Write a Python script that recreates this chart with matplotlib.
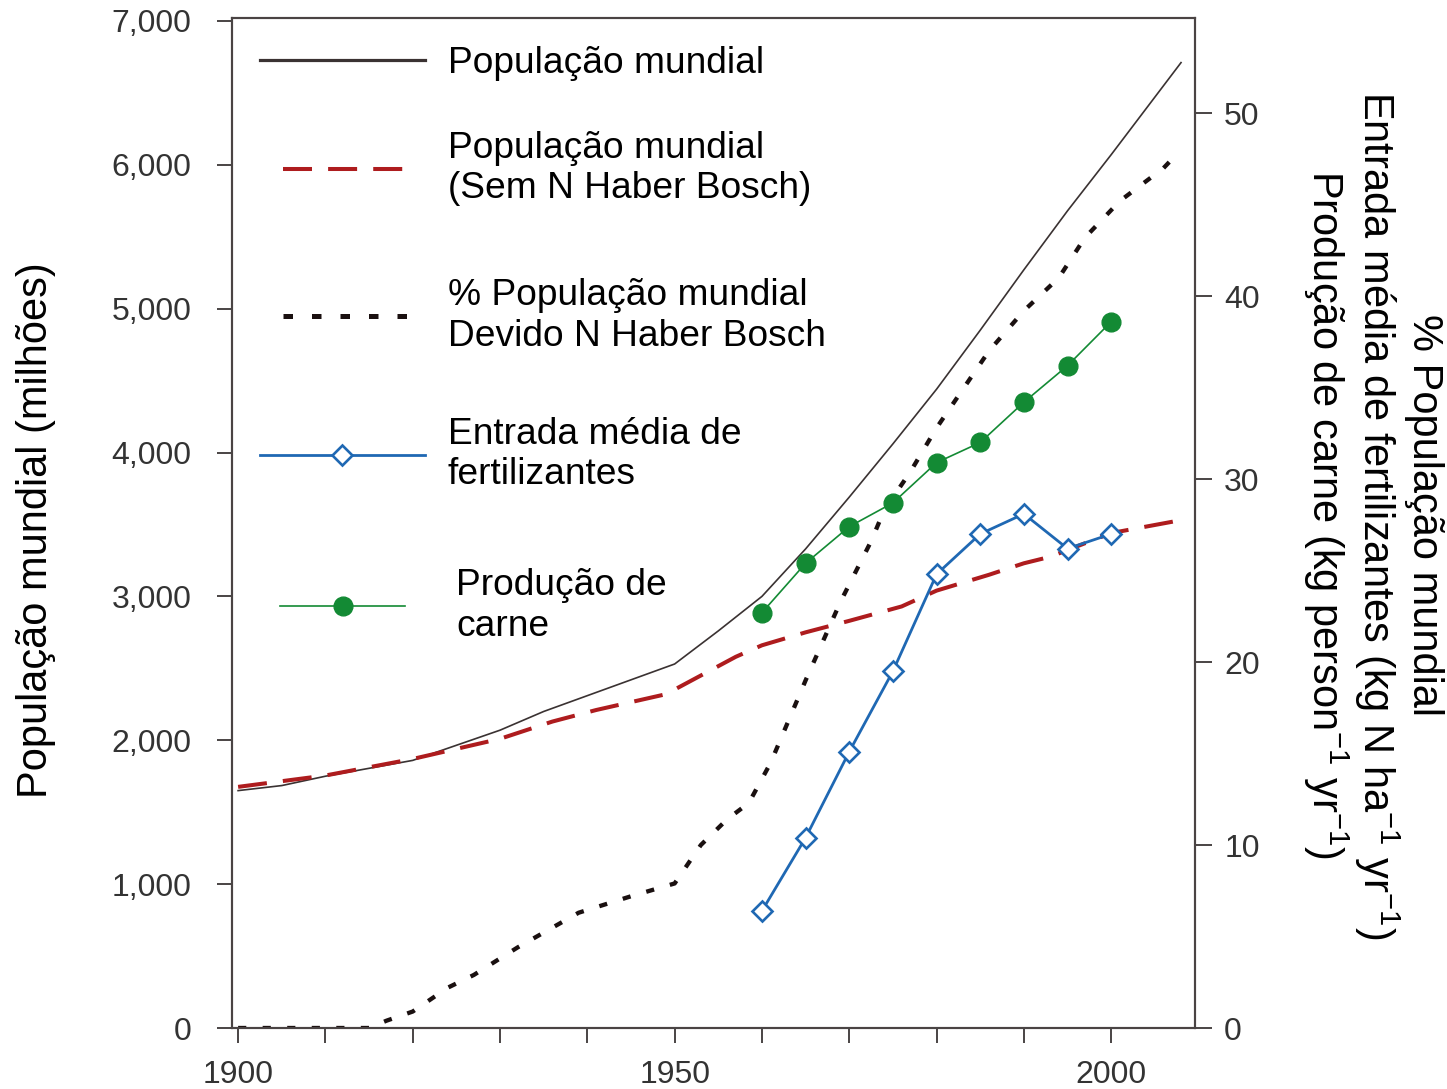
import matplotlib
matplotlib.use("Agg")
import matplotlib.pyplot as plt
from matplotlib import font_manager
from matplotlib.legend import Legend
from matplotlib.ticker import FixedLocator, MultipleLocator, FuncFormatter

# World population (millions), left axis
pop_years = [1900, 1905, 1910, 1920, 1930, 1935, 1940, 1950, 1955, 1960,
             1965, 1970, 1975, 1980, 1985, 1990, 1995, 2000, 2005, 2008]
pop_total = [1650, 1685, 1750, 1860, 2070, 2200, 2310, 2530, 2760, 3000,
             3330, 3690, 4060, 4440, 4850, 5270, 5680, 6070, 6470, 6710]

# World population without Haber-Bosch N (millions), left axis
nohb_years = [1900, 1910, 1920, 1930, 1936, 1941, 1949, 1953, 1957, 1960,
              1965, 1970, 1976, 1980, 1986, 1990, 1993, 2000, 2008]
nohb_total = [1676, 1755, 1870, 2010, 2130, 2210, 2320, 2450, 2580, 2660,
              2750, 2830, 2930, 3040, 3150, 3230, 3275, 3440, 3530]

# % of world population due to Haber-Bosch N, right axis
hb_years = [1900, 1915, 1917, 1920, 1924, 1927, 1932, 1939, 1945, 1950,
            1953, 1956, 1958.5, 1961, 1965, 1969, 1972.5, 1974, 1977, 1980,
            1983, 1986, 1990, 1994, 1997, 2001, 2006, 2007]
hb_share = [0, 0, 0.4, 0.9, 2.2, 2.9, 4.4, 6.3, 7.2, 7.9,
            10.0, 11.4, 12.3, 14.5, 19.0, 23.3, 26.6, 28.3, 30.4, 32.8,
            34.9, 37.0, 39.2, 41.0, 43.2, 45.2, 47.0, 47.5]

# Fertilizer input and meat production, right axis
fm_years = [1960, 1965, 1970, 1975, 1980, 1985, 1990, 1995, 2000]
fert_input = [6.4, 10.4, 15.1, 19.5, 24.8, 27.0, 28.1, 26.2, 27.0]
meat_prod = [22.7, 25.4, 27.4, 28.7, 30.9, 32.0, 34.2, 36.2, 38.6]

x_major = [1900, 1950, 2000]
left_ticks = [0, 1000, 2000, 3000, 4000, 5000, 6000, 7000]
right_ticks = [0, 10, 20, 30, 40, 50]

LABELS = ["População mundial",
          "População mundial\n(Sem N Haber Bosch)",
          "% População mundial\nDevido N Haber Bosch",
          "Entrada média de\nfertilizantes",
          "Produção de\ncarne"]
LEFT_LABEL = "População mundial (milhões)"
RIGHT_LABEL = ("% População mundial\n"
               "Entrada média de fertilizantes (kg N ha$^{-1}$ yr$^{-1}$)\n"
               "Produção de carne (kg person$^{-1}$ yr$^{-1}$)")

installed = {f.name for f in font_manager.fontManager.ttflist}
TEXT_FONT = "Liberation Sans"
TICK_FONT = ("Liberation Sans Narrow" if "Liberation Sans Narrow" in installed
             else TEXT_FONT)

plt.rcParams["font.family"] = [TEXT_FONT, "DejaVu Sans"]
plt.rcParams["mathtext.fontset"] = "custom"
plt.rcParams["mathtext.rm"] = TEXT_FONT
plt.rcParams["mathtext.default"] = "regular"

SPINE = "#4a4444"
TICK_TXT = "#333333"
C_POP = "#3a3232"
C_RED = "#ae1c1e"
C_DOT = "#1a1010"
C_BLUE = "#1f68b3"
C_GREEN = "#138a34"

fig = plt.figure(figsize=(14.47, 10.89), dpi=100)
ax = fig.add_axes([232 / 1447, 61 / 1089, 963 / 1447, 1010 / 1089])
ax2 = ax.twinx()

l_pop, = ax.plot(pop_years, pop_total, color=C_POP, lw=1.2)
l_red, = ax.plot(nohb_years, nohb_total, color=C_RED, lw=2.9,
                 dashes=(7.2, 4.0))
l_dot, = ax2.plot(hb_years, hb_share, color=C_DOT, lw=3.1,
                  dashes=(1.9, 3.8))
l_blue, = ax2.plot(fm_years, fert_input, color=C_BLUE, lw=2.0, marker="D",
                   ms=10.5, mfc="white", mec=C_BLUE, mew=1.9)
l_green, = ax2.plot(fm_years, meat_prod, color=C_GREEN, lw=1.2, marker="o",
                    ms=13.5, mfc=C_GREEN, mec=C_GREEN, mew=1)

ax.set_xlim(1899.3, 2009.6)
ax.set_ylim(0, 7020)
ax2.set_ylim(0, 55.2)

ax.xaxis.set_major_locator(FixedLocator(x_major))
ax.xaxis.set_minor_locator(MultipleLocator(10))
ax.xaxis.set_major_formatter(FuncFormatter(lambda v, p: f"{v:.0f}"))
ax.set_yticks(left_ticks)
ax.yaxis.set_major_formatter(FuncFormatter(lambda v, p: f"{v:,.0f}"))
ax2.set_yticks(right_ticks)

ax.tick_params(axis="x", which="both", direction="out", length=11,
               width=1.4, color=SPINE)
ax.tick_params(axis="x", which="major", pad=12, labelsize=23,
               labelcolor=TICK_TXT)
ax.tick_params(axis="y", direction="out", length=11, width=1.4, color=SPINE,
               pad=18, labelsize=23, labelcolor=TICK_TXT)
ax2.tick_params(axis="y", direction="out", length=12, width=1.4, color=SPINE,
                pad=9, labelsize=23, labelcolor=TICK_TXT)
for t in ax.get_xticklabels() + ax.get_yticklabels() + ax2.get_yticklabels():
    t.set_family(TICK_FONT)

for a in (ax, ax2):
    for s in a.spines.values():
        s.set_color(SPINE)
        s.set_linewidth(1.5)

ax.set_ylabel(LEFT_LABEL, fontsize=30)
ax.yaxis.set_label_coords(-0.183, 0.493)
ax2.set_ylabel(RIGHT_LABEL, fontsize=30, rotation=270,
               rotation_mode="default", ha="center", va="center",
               multialignment="center", linespacing=1.05)
ax2.yaxis.set_label_coords(1.184, 0.508)

# Hand-placed legend entries, one small legend per series
entries = [
    (l_pop, LABELS[0], 0.029, 0.955, 4.45, 0.62),
    (l_red, LABELS[1], 0.053, 0.851, 3.29, 1.16),
    (l_dot, LABELS[2], 0.053, 0.705, 3.56, 0.89),
    (l_blue, LABELS[3], 0.029, 0.568, 4.45, 0.62),
    (l_green, LABELS[4], 0.050, 0.418, 3.37, 1.37),
]
for handle, label, x0, y0, hl, pad in entries:
    leg = Legend(ax2, [handle], [label], loc="center left",
                 bbox_to_anchor=(x0, y0), bbox_transform=ax2.transAxes,
                 frameon=False, handlelength=hl, handletextpad=pad,
                 borderpad=0, borderaxespad=0, numpoints=1,
                 prop={"family": TEXT_FONT, "size": 26.7})
    ax2.add_artist(leg)
    if handle is l_pop:
        leg.get_lines()[0].set_linewidth(2.3)
    if handle is l_dot:
        leg.get_lines()[0].set_linewidth(3.6)

fig.savefig("out.png", dpi=100)
plt.close(fig)
